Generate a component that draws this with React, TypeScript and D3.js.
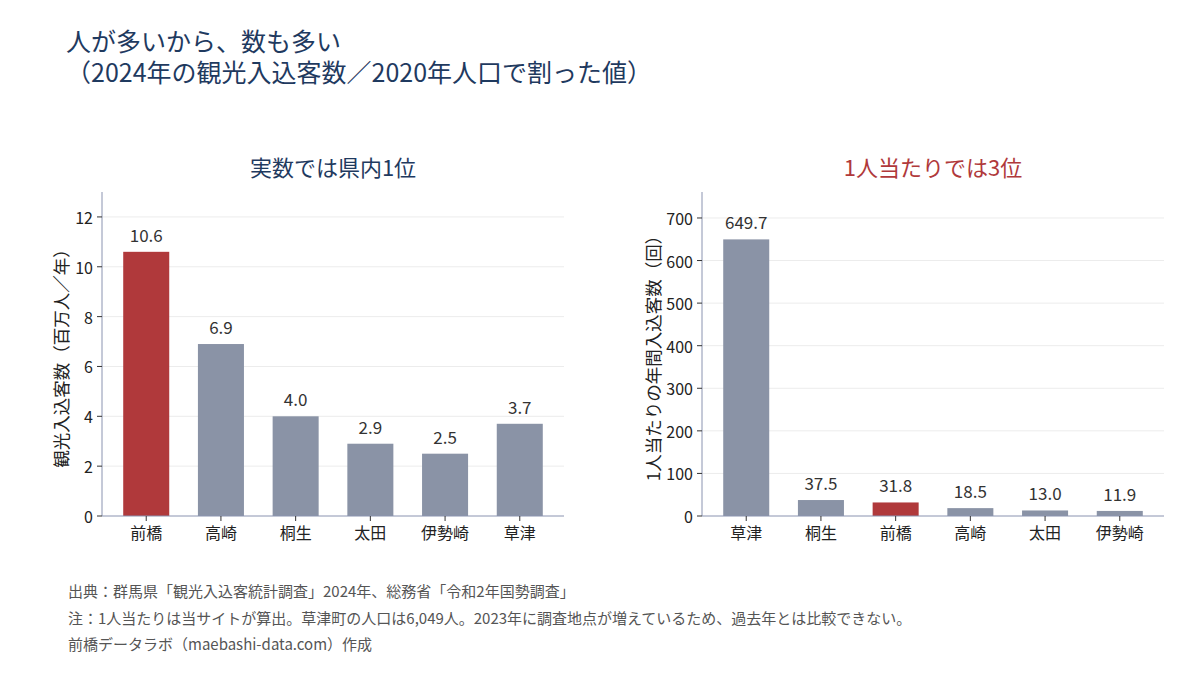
import * as d3 from 'd3';

const visitorCities = ['前橋', '高崎', '桐生', '太田', '伊勢崎', '草津'];
const visitorValues = [10.6, 6.9, 4.0, 2.9, 2.5, 3.7];
const visitorTicks = [0, 2, 4, 6, 8, 10, 12];

const perCapitaCities = ['草津', '桐生', '前橋', '高崎', '太田', '伊勢崎'];
const perCapitaValues = [649.7, 37.5, 31.8, 18.5, 13.0, 11.9];
const perCapitaTicks = [0, 100, 200, 300, 400, 500, 600, 700];

const titleLines = ['人が多いから、数も多い', '（2024年の観光入込客数／2020年人口で割った値）'];
const footnotes = [
  '出典：群馬県「観光入込客統計調査」2024年、総務省「令和2年国勢調査」',
  '注：1人当たりは当サイトが算出。草津町の人口は6,049人。2023年に調査地点が増えているため、過去年とは比較できない。',
  '前橋データラボ（maebashi-data.com）作成',
];

const FONT = '"Noto Sans CJK JP", "Noto Sans", sans-serif';
const NAVY = '#1f3a5f';
const RED = '#b0393b';
const GRAY = '#8a93a6';
const AXIS = '#8a93b0';

interface PanelProps {
  x0: number;
  cities: string[];
  values: number[];
  ticks: number[];
  yMax: number;
  highlight: string;
  title: string;
  titleColor: string;
  yLabel: string;
  labelX: number;
}

function Panel({ x0, cities, values, ticks, yMax, highlight, title, titleColor, yLabel, labelX }: PanelProps) {
  const top = 192;
  const bottom = 516;
  const width = 462;

  const xScale = d3.scaleBand<string>()
    .domain(cities)
    .range([x0, x0 + width])
    .paddingInner(0.384)
    .paddingOuter(0.284);

  const yScale = d3.scaleLinear().domain([0, yMax]).range([bottom, top]);
  const midY = (top + bottom) / 2;

  return (
    <g>
      <text x={x0 + width / 2} y={176} textAnchor="middle" fontSize={22} fill={titleColor}>
        {title}
      </text>
      {/* grid */}
      {ticks.filter(t => t > 0).map(t => (
        <line key={t} x1={x0} x2={x0 + width} y1={yScale(t)} y2={yScale(t)} stroke="#ececec" strokeWidth={1} />
      ))}
      {/* bars */}
      {cities.map((c, i) => (
        <g key={c}>
          <rect
            x={xScale(c)}
            y={yScale(values[i])}
            width={xScale.bandwidth()}
            height={bottom - yScale(values[i])}
            fill={c === highlight ? RED : GRAY}
          />
          <text
            x={(xScale(c) ?? 0) + xScale.bandwidth() / 2}
            y={yScale(values[i]) - 10}
            textAnchor="middle"
            fontSize={17}
            fill="#333"
          >
            {values[i].toFixed(1)}
          </text>
        </g>
      ))}
      {/* y axis */}
      <line x1={x0} x2={x0} y1={top} y2={bottom} stroke={AXIS} strokeWidth={1} />
      {ticks.map(t => (
        <g key={t}>
          <line x1={x0 - 5} x2={x0} y1={yScale(t)} y2={yScale(t)} stroke="#333" />
          <text x={x0 - 9} y={yScale(t)} textAnchor="end" dominantBaseline="central" fontSize={16} fill="#222">
            {t}
          </text>
        </g>
      ))}
      {/* x axis */}
      <line x1={x0} x2={x0 + width} y1={bottom} y2={bottom} stroke={AXIS} strokeWidth={1} />
      {cities.map(c => {
        const cx = (xScale(c) ?? 0) + xScale.bandwidth() / 2;
        return (
          <g key={c}>
            <line x1={cx} x2={cx} y1={bottom} y2={bottom + 5} stroke="#333" />
            <text x={cx} y={bottom + 23} textAnchor="middle" fontSize={16} fill="#222">
              {c}
            </text>
          </g>
        );
      })}
      <text
        x={labelX}
        y={midY}
        textAnchor="middle"
        dominantBaseline="central"
        fontSize={17.5}
        fill="#222"
        transform={`rotate(-90, ${labelX}, ${midY})`}
      >
        {yLabel}
      </text>
    </g>
  );
}

export default function App() {
  return (
    <svg width={1200} height={675} style={{ display: 'block', position: 'absolute', left: 0, top: 0, fontFamily: FONT }}>
      <rect width={1200} height={675} fill="#fff" />
      {titleLines.map((t, i) => (
        <text key={i} x={66} y={51 + i * 31} fontSize={25} fill={NAVY}>
          {t}
        </text>
      ))}
      <Panel
        x0={102}
        cities={visitorCities}
        values={visitorValues}
        ticks={visitorTicks}
        yMax={13}
        highlight="前橋"
        title="実数では県内1位"
        titleColor={NAVY}
        yLabel="観光入込客数（百万人／年）"
        labelX={60}
      />
      <Panel
        x0={702}
        cities={perCapitaCities}
        values={perCapitaValues}
        ticks={perCapitaTicks}
        yMax={761}
        highlight="前橋"
        title="1人当たりでは3位"
        titleColor={RED}
        yLabel="1人当たりの年間入込客数（回）"
        labelX={652}
      />
      {footnotes.map((t, i) => (
        <text key={i} x={68} y={597 + i * 26.5} fontSize={15} fill="#555">
          {t}
        </text>
      ))}
    </svg>
  );
}
